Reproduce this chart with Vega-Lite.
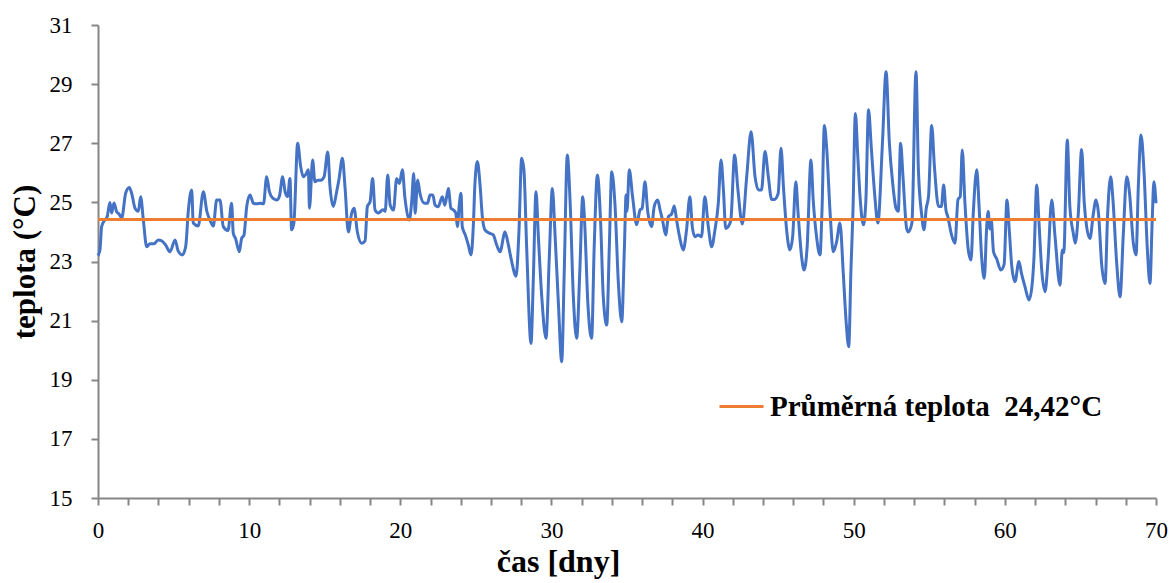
{
  "$schema": "https://vega.github.io/schema/vega-lite/v6.json",
  "width": 1058,
  "height": 473,
  "autosize": "none",
  "padding": {"left": 98, "top": 25, "right": 15, "bottom": 85},
  "background": "white",
  "config": {"view": {"stroke": null}, "font": "Liberation Serif"},
  "layer": [
    {
      "data": {"values": [
        {"d":0.0,"t":23.2},{"d":0.13,"t":23.4},{"d":0.24,"t":24.18},{"d":0.45,"t":24.4},{"d":0.6,"t":24.5},{"d":0.79,"t":25.0},{"d":0.9,"t":24.64},{"d":1.06,"t":24.98},{"d":1.23,"t":24.69},{"d":1.4,"t":24.6},{"d":1.57,"t":24.47},{"d":1.83,"t":25.31},{"d":2.07,"t":25.5},{"d":2.23,"t":25.3},{"d":2.45,"t":24.8},{"d":2.67,"t":24.7},{"d":2.82,"t":25.19},{"d":3.0,"t":24.4},{"d":3.22,"t":23.5},{"d":3.44,"t":23.6},{"d":3.7,"t":23.6},{"d":3.99,"t":23.73},{"d":4.2,"t":23.7},{"d":4.47,"t":23.56},{"d":4.76,"t":23.33},{"d":5.1,"t":23.73},{"d":5.3,"t":23.36},{"d":5.58,"t":23.22},{"d":5.8,"t":23.5},{"d":5.98,"t":24.74},{"d":6.2,"t":25.42},{"d":6.3,"t":24.3},{"d":6.63,"t":24.2},{"d":6.97,"t":25.36},{"d":7.2,"t":24.7},{"d":7.41,"t":24.4},{"d":7.63,"t":24.2},{"d":7.85,"t":25.08},{"d":8.07,"t":25.08},{"d":8.29,"t":24.18},{"d":8.6,"t":24.05},{"d":8.84,"t":24.97},{"d":8.95,"t":23.95},{"d":9.1,"t":23.78},{"d":9.35,"t":23.33},{"d":9.5,"t":23.78},{"d":9.66,"t":23.9},{"d":9.84,"t":24.86},{"d":10.06,"t":25.25},{"d":10.28,"t":24.97},{"d":10.5,"t":24.95},{"d":10.73,"t":24.97},{"d":10.95,"t":24.95},{"d":11.16,"t":25.87},{"d":11.34,"t":25.36},{"d":11.56,"t":25.14},{"d":11.82,"t":25.08},{"d":12.0,"t":25.2},{"d":12.22,"t":25.87},{"d":12.38,"t":25.36},{"d":12.55,"t":25.2},{"d":12.7,"t":25.81},{"d":12.81,"t":24.07},{"d":12.96,"t":24.3},{"d":13.21,"t":27.0},{"d":13.41,"t":26.21},{"d":13.58,"t":25.87},{"d":13.75,"t":25.95},{"d":13.92,"t":26.1},{"d":13.99,"t":24.8},{"d":14.2,"t":26.43},{"d":14.35,"t":25.7},{"d":14.55,"t":25.75},{"d":14.75,"t":25.75},{"d":14.96,"t":25.87},{"d":15.2,"t":26.7},{"d":15.35,"t":25.53},{"d":15.57,"t":24.86},{"d":15.79,"t":25.36},{"d":15.95,"t":25.8},{"d":16.17,"t":26.49},{"d":16.35,"t":25.47},{"d":16.56,"t":24.0},{"d":16.78,"t":24.63},{"d":16.94,"t":24.8},{"d":17.16,"t":24.0},{"d":17.45,"t":23.62},{"d":17.67,"t":23.7},{"d":17.82,"t":24.86},{"d":18.0,"t":25.02},{"d":18.17,"t":25.81},{"d":18.33,"t":24.74},{"d":18.55,"t":24.64},{"d":18.85,"t":24.75},{"d":19.0,"t":24.7},{"d":19.17,"t":25.93},{"d":19.33,"t":24.91},{"d":19.55,"t":24.74},{"d":19.76,"t":25.81},{"d":19.94,"t":25.64},{"d":20.14,"t":26.1},{"d":20.3,"t":25.19},{"d":20.6,"t":24.4},{"d":20.75,"t":25.0},{"d":20.89,"t":25.98},{"d":20.98,"t":24.63},{"d":21.15,"t":25.76},{"d":21.3,"t":25.31},{"d":21.6,"t":24.97},{"d":21.8,"t":24.97},{"d":21.97,"t":25.25},{"d":22.15,"t":25.25},{"d":22.3,"t":24.91},{"d":22.5,"t":24.85},{"d":22.78,"t":25.19},{"d":22.95,"t":24.9},{"d":23.18,"t":25.47},{"d":23.35,"t":24.8},{"d":23.5,"t":24.75},{"d":23.67,"t":24.64},{"d":23.78,"t":24.18},{"d":23.9,"t":24.9},{"d":24.02,"t":25.31},{"d":24.1,"t":24.18},{"d":24.3,"t":23.9},{"d":24.5,"t":23.56},{"d":24.68,"t":23.22},{"d":24.83,"t":24.18},{"d":24.94,"t":25.64},{"d":25.1,"t":26.38},{"d":25.27,"t":25.64},{"d":25.43,"t":24.51},{"d":25.6,"t":24.07},{"d":25.93,"t":23.95},{"d":26.15,"t":23.9},{"d":26.38,"t":23.56},{"d":26.6,"t":23.33},{"d":26.93,"t":24.0},{"d":27.15,"t":23.56},{"d":27.37,"t":23.0},{"d":27.66,"t":22.5},{"d":27.85,"t":24.0},{"d":28.03,"t":26.49},{"d":28.18,"t":26.1},{"d":28.36,"t":23.5},{"d":28.65,"t":20.23},{"d":28.8,"t":22.37},{"d":28.98,"t":25.36},{"d":29.13,"t":23.9},{"d":29.36,"t":21.81},{"d":29.64,"t":20.4},{"d":29.86,"t":23.17},{"d":30.06,"t":25.47},{"d":30.24,"t":23.9},{"d":30.46,"t":21.59},{"d":30.68,"t":19.61},{"d":30.85,"t":22.71},{"d":31.05,"t":26.6},{"d":31.24,"t":24.97},{"d":31.45,"t":21.81},{"d":31.67,"t":20.4},{"d":31.88,"t":22.71},{"d":32.07,"t":25.19},{"d":32.2,"t":24.3},{"d":32.41,"t":21.59},{"d":32.66,"t":20.4},{"d":32.83,"t":23.5},{"d":33.04,"t":25.93},{"d":33.26,"t":24.27},{"d":33.43,"t":21.81},{"d":33.66,"t":20.85},{"d":33.83,"t":23.5},{"d":33.99,"t":26.04},{"d":34.2,"t":24.97},{"d":34.43,"t":22.26},{"d":34.65,"t":20.96},{"d":34.83,"t":23.5},{"d":34.94,"t":25.25},{"d":35.0,"t":24.7},{"d":35.15,"t":26.1},{"d":35.37,"t":25.19},{"d":35.64,"t":24.24},{"d":35.86,"t":24.74},{"d":36.0,"t":24.8},{"d":36.19,"t":25.7},{"d":36.36,"t":24.74},{"d":36.63,"t":24.18},{"d":36.8,"t":24.86},{"d":37.03,"t":25.08},{"d":37.19,"t":24.74},{"d":37.35,"t":24.4},{"d":37.56,"t":23.9},{"d":37.74,"t":24.52},{"d":37.95,"t":24.6},{"d":38.13,"t":24.88},{"d":38.28,"t":24.4},{"d":38.5,"t":23.78},{"d":38.72,"t":23.39},{"d":38.94,"t":24.07},{"d":39.16,"t":25.19},{"d":39.32,"t":24.18},{"d":39.49,"t":23.84},{"d":39.7,"t":23.9},{"d":39.93,"t":23.84},{"d":40.15,"t":25.19},{"d":40.38,"t":24.18},{"d":40.6,"t":23.5},{"d":40.82,"t":24.07},{"d":41.04,"t":24.97},{"d":41.22,"t":26.43},{"d":41.38,"t":25.42},{"d":41.53,"t":24.12},{"d":41.7,"t":24.18},{"d":41.87,"t":24.4},{"d":42.12,"t":26.6},{"d":42.34,"t":25.42},{"d":42.63,"t":24.27},{"d":42.92,"t":25.87},{"d":43.21,"t":27.39},{"d":43.47,"t":25.87},{"d":43.7,"t":25.42},{"d":43.9,"t":25.42},{"d":44.13,"t":26.72},{"d":44.35,"t":25.87},{"d":44.57,"t":25.1},{"d":44.75,"t":25.1},{"d":45.0,"t":25.3},{"d":45.19,"t":26.83},{"d":45.35,"t":25.53},{"d":45.56,"t":24.07},{"d":45.78,"t":23.39},{"d":45.96,"t":23.84},{"d":46.17,"t":25.7},{"d":46.32,"t":24.63},{"d":46.55,"t":23.17},{"d":46.72,"t":22.71},{"d":46.92,"t":23.5},{"d":47.17,"t":26.43},{"d":47.32,"t":25.08},{"d":47.54,"t":23.84},{"d":47.77,"t":23.22},{"d":47.9,"t":24.7},{"d":48.06,"t":27.6},{"d":48.22,"t":26.77},{"d":48.44,"t":24.63},{"d":48.65,"t":23.33},{"d":48.87,"t":23.67},{"d":49.09,"t":24.3},{"d":49.31,"t":22.6},{"d":49.49,"t":21.02},{"d":49.67,"t":20.12},{"d":49.82,"t":22.77},{"d":49.95,"t":24.7},{"d":50.11,"t":28.01},{"d":50.26,"t":26.66},{"d":50.42,"t":25.19},{"d":50.64,"t":24.24},{"d":50.8,"t":25.0},{"d":50.98,"t":28.13},{"d":51.16,"t":26.88},{"d":51.38,"t":25.31},{"d":51.6,"t":24.3},{"d":51.9,"t":27.0},{"d":52.14,"t":29.42},{"d":52.36,"t":27.0},{"d":52.58,"t":25.64},{"d":52.8,"t":24.8},{"d":52.95,"t":24.7},{"d":53.1,"t":27.0},{"d":53.26,"t":25.87},{"d":53.5,"t":24.12},{"d":53.61,"t":24.0},{"d":53.85,"t":24.3},{"d":54.12,"t":29.42},{"d":54.28,"t":26.1},{"d":54.5,"t":24.57},{"d":54.65,"t":24.07},{"d":54.8,"t":24.8},{"d":54.95,"t":25.2},{"d":55.16,"t":27.6},{"d":55.34,"t":26.21},{"d":55.61,"t":24.86},{"d":55.8,"t":24.86},{"d":55.95,"t":25.59},{"d":56.1,"t":24.75},{"d":56.23,"t":24.51},{"d":56.45,"t":23.95},{"d":56.7,"t":23.62},{"d":56.9,"t":25.1},{"d":57.05,"t":25.2},{"d":57.18,"t":26.77},{"d":57.36,"t":24.97},{"d":57.58,"t":23.39},{"d":57.76,"t":23.05},{"d":57.91,"t":24.63},{"d":58.14,"t":26.1},{"d":58.3,"t":24.8},{"d":58.46,"t":23.17},{"d":58.64,"t":22.43},{"d":58.8,"t":24.2},{"d":58.9,"t":24.69},{"d":59.0,"t":24.1},{"d":59.1,"t":24.4},{"d":59.25,"t":23.33},{"d":59.45,"t":23.1},{"d":59.74,"t":22.71},{"d":59.95,"t":22.9},{"d":60.14,"t":25.08},{"d":60.3,"t":24.0},{"d":60.46,"t":22.83},{"d":60.67,"t":22.32},{"d":60.93,"t":23.0},{"d":61.1,"t":22.6},{"d":61.33,"t":22.15},{"d":61.6,"t":21.7},{"d":61.8,"t":22.2},{"d":61.92,"t":23.05},{"d":62.11,"t":25.59},{"d":62.25,"t":24.4},{"d":62.44,"t":22.71},{"d":62.66,"t":21.98},{"d":62.85,"t":23.0},{"d":63.1,"t":25.08},{"d":63.32,"t":23.84},{"d":63.65,"t":22.2},{"d":63.8,"t":23.39},{"d":63.9,"t":23.3},{"d":64.13,"t":27.11},{"d":64.3,"t":24.86},{"d":64.53,"t":23.95},{"d":64.66,"t":23.62},{"d":64.86,"t":24.63},{"d":65.08,"t":26.79},{"d":65.25,"t":25.0},{"d":65.41,"t":24.18},{"d":65.63,"t":23.78},{"d":65.85,"t":24.6},{"d":66.03,"t":25.08},{"d":66.2,"t":24.6},{"d":66.4,"t":22.94},{"d":66.63,"t":22.26},{"d":66.8,"t":24.6},{"d":67.0,"t":25.87},{"d":67.15,"t":25.1},{"d":67.4,"t":22.94},{"d":67.62,"t":21.81},{"d":67.84,"t":23.95},{"d":68.06,"t":25.87},{"d":68.25,"t":25.3},{"d":68.5,"t":23.62},{"d":68.68,"t":23.22},{"d":68.83,"t":25.53},{"d":69.01,"t":27.28},{"d":69.2,"t":26.1},{"d":69.43,"t":23.39},{"d":69.6,"t":22.26},{"d":69.75,"t":24.4},{"d":69.86,"t":25.7},{"d":70.0,"t":24.97}
      ]},
      "mark": {"type": "line", "color": "#4472C4", "strokeWidth": 3, "interpolate": "monotone"},
      "encoding": {
        "x": {
          "field": "d", "type": "quantitative",
          "scale": {"domain": [0, 70], "nice": false},
          "axis": {
            "values": [0,2,4,6,8,10,12,14,16,18,20,22,24,26,28,30,32,34,36,38,40,42,44,46,48,50,52,54,56,58,60,62,64,66,68,70],
            "labelExpr": "datum.value % 10 == 0 ? datum.label : ''",
            "grid": false, "labelFlush": false, "labelOverlap": false,
            "domainColor": "#868686", "domainWidth": 2,
            "tickColor": "#868686", "tickWidth": 2, "tickSize": 7,
            "labelPadding": 14, "labelFontSize": 23, "labelFont": "Liberation Serif", "labelColor": "black",
            "title": "čas [dny]", "titleFont": "Liberation Serif", "titleFontSize": 32, "titleFontWeight": "bold", "titleColor": "black", "titlePadding": 4, "titleX": 460
          }
        },
        "y": {
          "field": "t", "type": "quantitative",
          "scale": {"domain": [15, 31], "nice": false, "zero": false},
          "axis": {
            "values": [15,16,17,18,19,20,21,22,23,24,25,26,27,28,29,30,31],
            "labelExpr": "datum.value % 2 == 1 ? datum.label : ''",
            "grid": false, "labelOverlap": false, "labelFlush": false,
            "domainColor": "#868686", "domainWidth": 2,
            "tickColor": "#868686", "tickWidth": 2, "tickSize": 7,
            "labelPadding": 19, "labelFontSize": 23, "labelFont": "Liberation Serif", "labelColor": "black",
            "title": "teplota (°C)", "titleFont": "Liberation Serif", "titleFontSize": 31, "titleFontWeight": "bold", "titleColor": "black", "titlePadding": 8
          }
        }
      }
    },
    {
      "data": {"values": [{"avg": 24.42, "label": "Průměrná teplota\u00a0 24,42°C"}]},
      "mark": {"type": "rule", "strokeWidth": 3},
      "encoding": {
        "y": {"field": "avg", "type": "quantitative"},
        "color": {
          "field": "label", "type": "nominal",
          "scale": {"range": ["#ED7D31"]},
          "legend": {
            "title": null, "orient": "none", "legendX": 620, "legendY": 358,
            "symbolType": "stroke", "symbolSize": 1936, "symbolStrokeWidth": 3, "symbolStrokeColor": "#ED7D31",
            "labelFont": "Liberation Serif", "labelFontSize": 29, "labelFontWeight": "bold", "labelColor": "black",
            "labelOffset": 5, "labelLimit": 0, "padding": 0
          }
        }
      }
    }
  ]
}
